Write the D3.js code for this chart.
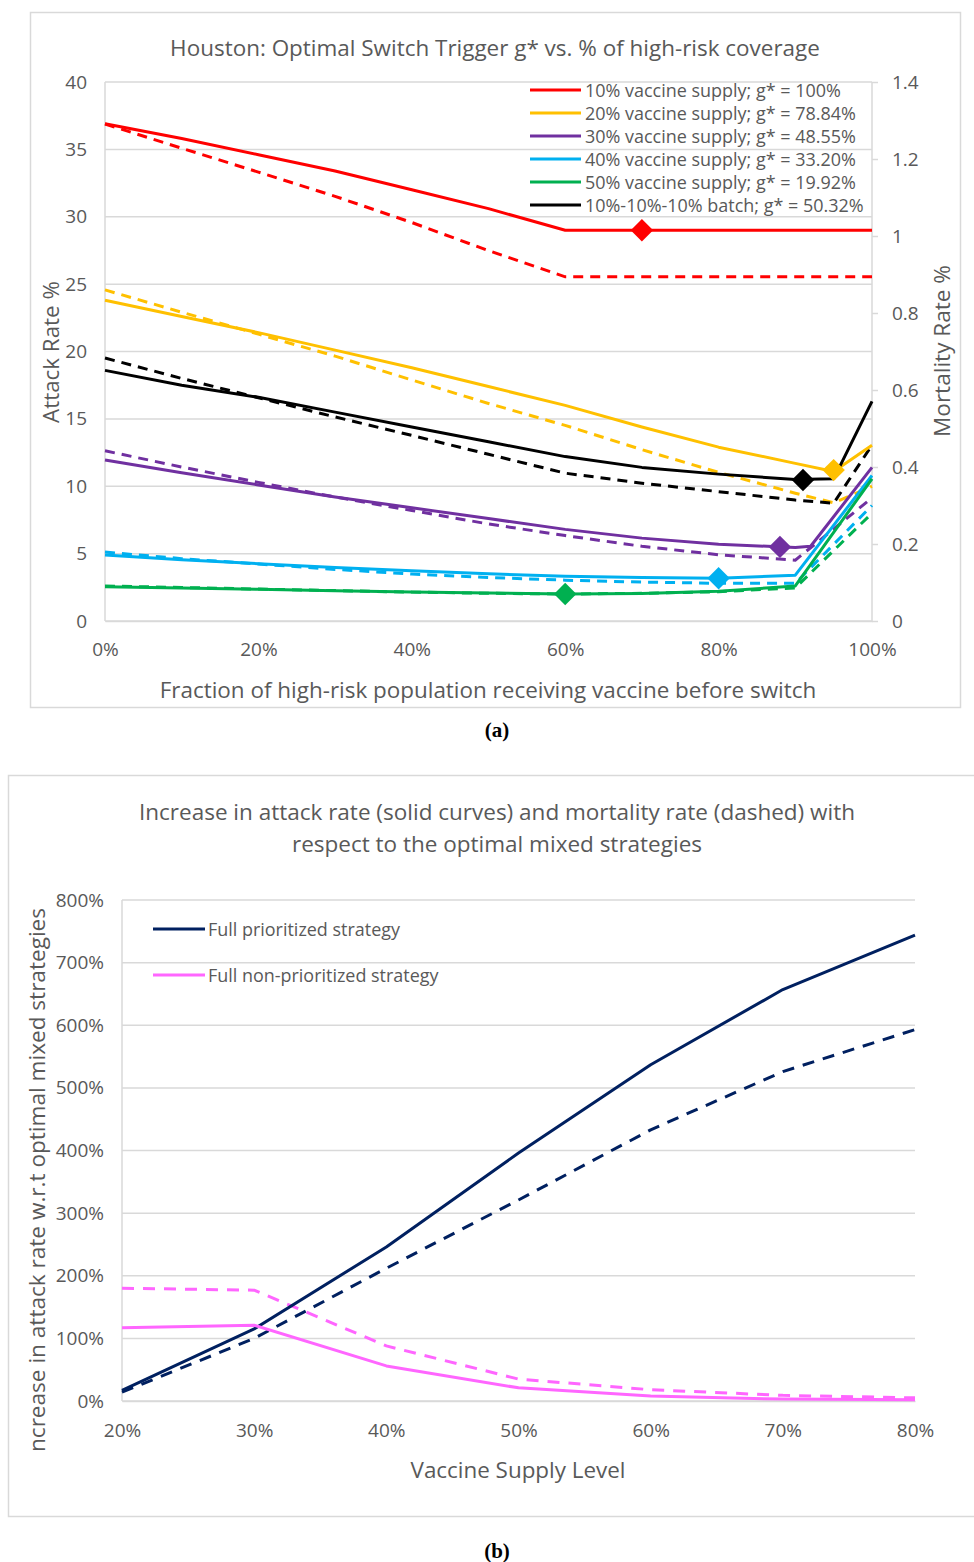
<!DOCTYPE html>
<html><head><meta charset="utf-8">
<script src="https://cdn.jsdelivr.net/npm/d3@7"></script>
<style>
body{margin:0;background:#fff;}
svg text{font-family:"Open Sans",sans-serif;fill:#595959;}
</style></head>
<body>
<svg id="c" width="974" height="1562"></svg>
<script>
// ---------- Chart (a) data ----------
const covA = [0,10,20,30,40,50,60,70,80,90,100];
const covB = [0,10,20,30,40,50,60,70,80,90,95,100];
const covC = [0,10,20,30,40,50,60,70,80,90,92,100];

const redAR = [36.9,35.8,34.6,33.4,32.0,30.6,29.0,29.0,29.0,29.0,29.0];
const redMR = [1.291,1.228,1.166,1.103,1.035,0.962,0.894,0.894,0.894,0.894,0.894];
const yellowAR = [23.8,22.6,21.4,20.1,18.8,17.4,16.0,14.4,12.9,11.7,11.1,13.05];
const yellowMR = [0.860,0.802,0.745,0.688,0.626,0.565,0.508,0.445,0.386,0.332,0.307,0.35];
const purpleAR = [11.95,11.0,10.1,9.2,8.4,7.6,6.8,6.15,5.7,5.45,5.55,11.4];
const purpleMR = [0.442,0.400,0.360,0.322,0.287,0.252,0.222,0.194,0.172,0.158,0.32];
const blueAR = [4.9,4.55,4.25,3.97,3.72,3.5,3.33,3.22,3.17,3.4,10.8];
const blueMR = [0.179,0.162,0.148,0.134,0.122,0.113,0.106,0.101,0.098,0.098,0.30];
const greenAR = [2.55,2.45,2.35,2.25,2.15,2.08,2.0,2.05,2.2,2.6,10.55];
const greenMR = [0.091,0.087,0.083,0.079,0.075,0.072,0.070,0.072,0.076,0.086,0.28];
const blackAR = [18.6,17.5,16.6,15.5,14.4,13.3,12.2,11.4,10.9,10.5,10.55,16.3];
const blackMR = [0.683,0.630,0.580,0.530,0.482,0.433,0.384,0.358,0.336,0.314,0.306,0.457];

const legendA = ["10% vaccine supply; g* = 100%","20% vaccine supply; g* = 78.84%","30% vaccine supply; g* = 48.55%","40% vaccine supply; g*  = 33.20%","50% vaccine supply; g* = 19.92%","10%-10%-10% batch; g* = 50.32%"];
const optX = [70,95,88,80,60,91];
const optAR = [29.0,11.2,5.5,3.17,2.0,10.46];
const xTicksA = [0,20,40,60,80,100];
const yTicksL = [0,5,10,15,20,25,30,35,40];
const yTicksR = [0,0.2,0.4,0.6,0.8,1,1.2,1.4];

// ---------- Chart (b) data ----------
const supply = [20,30,40,50,60,70,80];
const prioAR = [17,115,246,396,537,657,744];
const prioMR = [14,100,212,321,433,526,593];
const nonprioAR = [117,121,56,21,8,3,2];
const nonprioMR = [180,177,88,35,18,9,5];
const legendB = ["Full prioritized strategy","Full non-prioritized strategy"];
const yTicksB = [0,100,200,300,400,500,600,700,800];

const colorsA = ["#FF0000","#FFC000","#7030A0","#00B0F0","#00B050","#000000"];
const navy = "#002060", pink = "#FF66FF";
const grid = "#d9d9d9";
const tickFs = 19;

const svg = d3.select("#c");

function fitText(sel, target){
  const w = sel.node().getComputedTextLength();
  const fs = parseFloat(sel.attr("font-size"));
  sel.attr("font-size", (fs*target/w).toFixed(2));
}

// ================= Chart (a) =================
svg.append("rect").attr("x",30.5).attr("y",12.5).attr("width",930).attr("height",695)
  .attr("fill","none").attr("stroke",grid).attr("stroke-width",1.5);

const xA = d3.scaleLinear().domain([0,100]).range([105,872]);
const yL = d3.scaleLinear().domain([0,40]).range([621,82]);
const yR = d3.scaleLinear().domain([0,1.4]).range([621,82]);

svg.append("g").selectAll("line").data(yTicksL).join("line")
  .attr("x1",105).attr("x2",872).attr("y1",d=>yL(d)).attr("y2",d=>yL(d))
  .attr("stroke",grid).attr("stroke-width",1.5);
svg.append("line").attr("x1",105).attr("x2",105).attr("y1",82).attr("y2",621).attr("stroke",grid).attr("stroke-width",1.5);
svg.append("line").attr("x1",872).attr("x2",872).attr("y1",82).attr("y2",621).attr("stroke",grid).attr("stroke-width",1.5);

const axL = svg.append("g").attr("transform","translate(105,0)")
  .call(d3.axisLeft(yL).tickValues(yTicksL).tickSize(0).tickPadding(18));
axL.select(".domain").remove();
axL.selectAll("text").attr("font-size",tickFs).attr("font-family","Open Sans").attr("fill","#595959");

const axR = svg.append("g").attr("transform","translate(872,0)")
  .call(d3.axisRight(yR).tickValues(yTicksR).tickSize(6).tickPadding(14).tickFormat(d3.format("")));
axR.select(".domain").remove();
axR.selectAll("line").attr("stroke",grid).attr("stroke-width",1.5);
axR.selectAll("text").attr("font-size",tickFs).attr("font-family","Open Sans").attr("fill","#595959");

const axB = svg.append("g").attr("transform","translate(0,621)")
  .call(d3.axisBottom(xA).tickValues(xTicksA).tickSize(0).tickPadding(22).tickFormat(d=>d+"%"));
axB.select(".domain").attr("stroke",grid).attr("stroke-width",1.5);
axB.selectAll("text").attr("font-size",tickFs).attr("font-family","Open Sans").attr("fill","#595959");

const seriesA = [
  {x:covA, ar:redAR, xm:covA, mr:redMR},
  {x:covB, ar:yellowAR, xm:covB, mr:yellowMR},
  {x:covC, ar:purpleAR, xm:covA, mr:purpleMR},
  {x:covA, ar:blueAR, xm:covA, mr:blueMR},
  {x:covA, ar:greenAR, xm:covA, mr:greenMR},
  {x:covB, ar:blackAR, xm:covB, mr:blackMR}
];
const lineL = d3.line().x(d=>xA(d[0])).y(d=>yL(d[1]));
const lineR = d3.line().x(d=>xA(d[0])).y(d=>yR(d[1]));
const gA = svg.append("g");
seriesA.forEach((s,i)=>{
  gA.append("path").attr("d",lineR(s.xm.map((x,j)=>[x,s.mr[j]])))
    .attr("fill","none").attr("stroke",colorsA[i]).attr("stroke-width",3)
    .attr("stroke-dasharray","10,7");
});
seriesA.forEach((s,i)=>{
  gA.append("path").attr("d",lineL(s.x.map((x,j)=>[x,s.ar[j]])))
    .attr("fill","none").attr("stroke",colorsA[i]).attr("stroke-width",3)
    .attr("stroke-linejoin","round");
});
gA.selectAll("path.mk").data(optX).join("path").attr("class","mk")
  .attr("d",d3.symbol().type(d3.symbolDiamond2).size(320))
  .attr("transform",(d,i)=>`translate(${xA(d)},${yL(optAR[i])})`)
  .attr("fill",(d,i)=>colorsA[i]);

const lgA = svg.append("g");
let legFs = 16;
legendA.forEach((t,i)=>{
  const y = 90 + i*23;
  lgA.append("line").attr("x1",530).attr("x2",581).attr("y1",y).attr("y2",y)
    .attr("stroke",colorsA[i]).attr("stroke-width",3);
  const tx = lgA.append("text").attr("x",585).attr("y",y).attr("dominant-baseline","central")
    .attr("font-size",legFs).text(t);
  if(i===0){ fitText(tx,256); legFs = +tx.attr("font-size"); }
});

const tA = svg.append("text").attr("x",495).attr("y",47).attr("text-anchor","middle").attr("dominant-baseline","central")
  .attr("font-size",20).text("Houston: Optimal Switch Trigger g* vs. % of high-risk coverage");
fitText(tA,650);
const xlA = svg.append("text").attr("x",488).attr("y",689).attr("text-anchor","middle").attr("dominant-baseline","central")
  .attr("font-size",20).text("Fraction of high-risk population receiving vaccine before switch");
fitText(xlA,657);
const ylA = svg.append("text").attr("transform","translate(50,352) rotate(-90)").attr("text-anchor","middle").attr("dominant-baseline","central")
  .attr("font-size",20).text("Attack Rate %");
fitText(ylA,142);
const yrA = svg.append("text").attr("transform","translate(941,351) rotate(-90)").attr("text-anchor","middle").attr("dominant-baseline","central")
  .attr("font-size",20).text("Mortality Rate %");
fitText(yrA,172);

svg.append("text").attr("x",497).attr("y",730).attr("text-anchor","middle").attr("dominant-baseline","central")
  .style("font-family","'Liberation Serif',serif").style("fill","#000").attr("font-weight","bold").attr("font-size",21).text("(a)");

// ================= Chart (b) =================
svg.append("path").attr("d","M974,775.5 H8.5 V1516.5 H974").attr("fill","none").attr("stroke",grid).attr("stroke-width",1.5);

const xB = d3.scaleLinear().domain([20,80]).range([122,915]);
const yB = d3.scaleLinear().domain([0,800]).range([1401,900]);

svg.append("g").selectAll("line").data(yTicksB).join("line")
  .attr("x1",122).attr("x2",915).attr("y1",d=>yB(d)).attr("y2",d=>yB(d))
  .attr("stroke",grid).attr("stroke-width",1.5);
svg.append("line").attr("x1",122).attr("x2",122).attr("y1",900).attr("y2",1401).attr("stroke",grid).attr("stroke-width",1.5);

const axBL = svg.append("g").attr("transform","translate(122,0)")
  .call(d3.axisLeft(yB).tickValues(yTicksB).tickSize(0).tickPadding(18).tickFormat(d=>d+"%"));
axBL.select(".domain").remove();
axBL.selectAll("text").attr("font-size",tickFs).attr("font-family","Open Sans").attr("fill","#595959");
const axBB = svg.append("g").attr("transform","translate(0,1401)")
  .call(d3.axisBottom(xB).tickValues(supply).tickSize(0).tickPadding(23).tickFormat(d=>d+"%"));
axBB.select(".domain").attr("stroke",grid).attr("stroke-width",1.5);
axBB.selectAll("text").attr("font-size",tickFs).attr("font-family","Open Sans").attr("fill","#595959");

const lineB = d3.line().x(d=>xB(d[0])).y(d=>yB(d[1]));
const seriesB = [
  {v:prioMR, c:navy, dash:"12,9"},
  {v:nonprioMR, c:pink, dash:"12,9"},
  {v:prioAR, c:navy, dash:null},
  {v:nonprioAR, c:pink, dash:null}
];
seriesB.forEach(s=>{
  svg.append("path").attr("d",lineB(supply.map((x,j)=>[x,s.v[j]])))
    .attr("fill","none").attr("stroke",s.c).attr("stroke-width",3)
    .attr("stroke-linejoin","round")
    .attr("stroke-dasharray",s.dash);
});

let legFsB = 16;
[navy,pink].forEach((c,i)=>{
  const y = 929 + i*46;
  svg.append("line").attr("x1",153).attr("x2",205).attr("y1",y).attr("y2",y).attr("stroke",c).attr("stroke-width",3);
  const tx = svg.append("text").attr("x",208).attr("y",y).attr("dominant-baseline","central").attr("font-size",legFsB).text(legendB[i]);
  if(i===0){ fitText(tx,192); legFsB = +tx.attr("font-size"); }
});

const tb1 = svg.append("text").attr("x",497).attr("y",811).attr("text-anchor","middle").attr("dominant-baseline","central")
  .attr("font-size",20).text("Increase in attack rate (solid curves) and mortality rate (dashed) with");
fitText(tb1,716);
svg.append("text").attr("x",497).attr("y",843).attr("text-anchor","middle").attr("dominant-baseline","central")
  .attr("font-size",tb1.attr("font-size")).text("respect to the optimal mixed strategies");
const xlB = svg.append("text").attr("x",518).attr("y",1469).attr("text-anchor","middle").attr("dominant-baseline","central")
  .attr("font-size",20).text("Vaccine Supply Level");
fitText(xlB,215);
const ylB = svg.append("text").attr("transform","translate(36,1180) rotate(-90)").attr("text-anchor","middle").attr("dominant-baseline","central")
  .attr("font-size",20).text("ncrease in attack rate  w.r.t optimal mixed strategies");
fitText(ylB,544);

svg.append("text").attr("x",497).attr("y",1551).attr("text-anchor","middle").attr("dominant-baseline","central")
  .style("font-family","'Liberation Serif',serif").style("fill","#000").attr("font-weight","bold").attr("font-size",21).text("(b)");
</script>
</body></html>
